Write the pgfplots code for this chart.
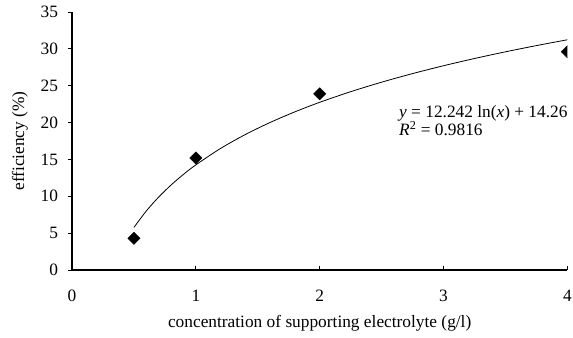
\documentclass[border=0pt]{standalone}
\usepackage{fontspec}
\setmainfont{Liberation Serif}
\usepackage{pgfplots}
\pgfplotsset{compat=1.18}
\begin{document}
\fontsize{13pt}{15pt}\selectfont
\begin{tikzpicture}
\begin{axis}[
  scale only axis,
  width=371.5pt, height=193.5pt,
  xmin=0, xmax=4, ymin=0, ymax=35,
  axis x line*=bottom, axis y line*=left,
  axis line style={line width=0.8pt, -},
  xtick={0,1,2,3,4}, ytick={0,5,10,15,20,25,30,35},
  x tick style={line width=0.6pt, black}, y tick style={line width=0.6pt, black},
  xtick align=inside, ytick align=outside,
  major tick length=3pt,
  /pgf/number format/assume math mode=true,
  tick label style={font=\fontsize{13pt}{15pt}\selectfont},
  xticklabel style={yshift=-10.5pt},
  yticklabel style={xshift=-3pt},
  xlabel={concentration of supporting electrolyte (g/l)},
  ylabel={efficiency (\%)},
  xlabel style={at={(axis description cs:0.5,0)}, anchor=base, yshift=-43pt, font=\fontsize{13pt}{15pt}\selectfont},
  ylabel style={at={(axis description cs:0,0.5)}, anchor=center, rotate=0, xshift=0pt, yshift=39pt, font=\fontsize{13pt}{15pt}\selectfont},
  clip=true, clip marker paths=true,
]
\addplot[black, line width=0.6pt, smooth] coordinates {
(0.5,5.774) (0.6,8.006) (0.7,9.894) (0.8,11.528) (0.9,12.970) (1.0,14.26)
(1.2,16.492) (1.4,18.379) (1.6,20.014) (1.8,21.456) (2.0,22.746)
(2.25,24.187) (2.5,25.477) (2.75,26.643) (3.0,27.709) (3.25,28.689) (3.5,29.596) (3.75,30.441) (4.0,31.231)};
\addplot[only marks, mark=square*, mark size=3.2pt, mark options={rotate=45, fill=black, draw=black}] coordinates {
(0.5,4.3) (1,15.2) (2,23.9) (4,29.6)};
\node[anchor=north west, align=left, inner sep=0pt, font=\fontsize{13pt}{13.5pt}\selectfont] at (axis cs:2.64,22.4)
 {\textit{y} = 12.242 ln(\textit{x}) + 14.26\\\textit{R}\textsuperscript{2} = 0.9816};
\end{axis}
\pgfresetboundingbox
\path[use as bounding box] ([xshift=-54pt,yshift=-51pt]current axis.south west) rectangle ([xshift=4.25pt,yshift=9pt]current axis.north east);
\end{tikzpicture}
\end{document}
